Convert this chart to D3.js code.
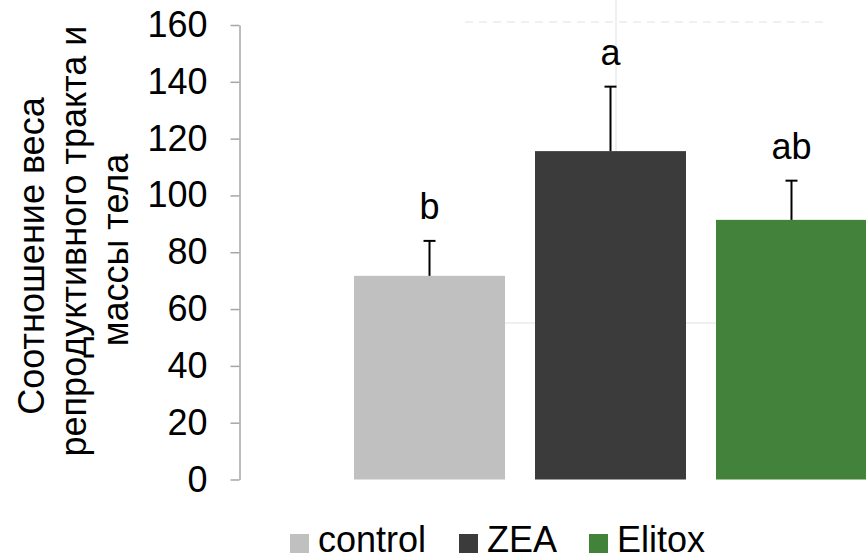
<!DOCTYPE html>
<html>
<head>
<meta charset="utf-8">
<script src="https://cdn.jsdelivr.net/npm/d3@7"></script>
<style>
  html, body { margin: 0; padding: 0; background: #fff; }
  svg { display: block; font-family: "Liberation Sans", Arial, sans-serif; }
</style>
</head>
<body>
<svg id="chart" width="866" height="559"></svg>
<script>
const categories = ["control", "ZEA", "Elitox"];
const means = [71.7, 115.6, 91.4];
const errors = [12.3, 22.7, 13.8];
const letters = ["b", "a", "ab"];
const yTicks = [0, 20, 40, 60, 80, 100, 120, 140, 160];
const colors = ["#C0C0C0", "#3B3B3B", "#43823A"];
const titleLines = ["Соотношение веса", "репродуктивного тракта и", "массы тела"];

const svg = d3.select("#chart");

const y = d3.scaleLinear().domain([0, 160]).range([479.5, 25]);
const x = d3.scaleBand().domain(categories).range([339, 882])
  .paddingInner(0.1657).paddingOuter(0.0829);

// faint ghost lines in background
const ghost = svg.append("g").attr("stroke", "#f0f0f0").attr("stroke-width", 2);
ghost.append("line").attr("x1", 465).attr("x2", 823).attr("y1", 22).attr("y2", 22)
  .attr("stroke-dasharray", "8,6");
ghost.append("line").attr("x1", 616).attr("x2", 616).attr("y1", 0).attr("y2", 323);
ghost.append("line").attr("x1", 465).attr("x2", 825).attr("y1", 323).attr("y2", 323);

// axis
const axis = d3.axisLeft(y).tickValues(yTicks).tickSize(9).tickSizeOuter(0).tickPadding(23);
const ag = svg.append("g").attr("transform", "translate(239.5,0)").call(axis);
ag.select(".domain").attr("stroke", "#A6A6A6").attr("stroke-width", 1.5);
ag.selectAll(".tick line").attr("stroke", "#A6A6A6").attr("stroke-width", 1.5);
ag.selectAll(".tick text").attr("fill", "#000").attr("font-size", 36)
  .attr("font-family", "Liberation Sans, Arial, sans-serif");

// bars
svg.append("g").selectAll("rect").data(categories).join("rect")
  .attr("x", d => x(d))
  .attr("width", x.bandwidth())
  .attr("y", (d, i) => y(means[i]))
  .attr("height", (d, i) => y(0) - y(means[i]))
  .attr("fill", (d, i) => colors[i]);

// error bars
const eg = svg.append("g").attr("stroke", "#000").attr("stroke-width", 2);
categories.forEach((c, i) => {
  const cx = x(c) + x.bandwidth() / 2;
  eg.append("line").attr("x1", cx).attr("x2", cx)
    .attr("y1", y(means[i])).attr("y2", y(means[i] + errors[i]));
  eg.append("line").attr("x1", cx - 6).attr("x2", cx + 6)
    .attr("y1", y(means[i] + errors[i])).attr("y2", y(means[i] + errors[i]));
});

// significance letters
svg.append("g").selectAll("text").data(categories).join("text")
  .attr("x", d => x(d) + x.bandwidth() / 2)
  .attr("y", (d, i) => y(means[i] + errors[i]) - 22)
  .attr("text-anchor", "middle")
  .attr("font-size", 36)
  .attr("fill", "#000")
  .text((d, i) => letters[i]);

// y title
const titleCenters = [256, 241, 250];
const tg = svg.append("g");
titleLines.forEach((t, i) => {
  tg.append("text")
    .attr("transform", `translate(${44 + i * 42},${titleCenters[i]}) rotate(-90)`)
    .attr("text-anchor", "middle")
    .attr("font-size", 36)
    .attr("fill", "#000")
    .text(t);
});

// legend
const legX = [290, 459, 589];
const lg = svg.append("g");
categories.forEach((c, i) => {
  lg.append("rect").attr("x", legX[i]).attr("y", 534).attr("width", 19).attr("height", 19)
    .attr("fill", colors[i]);
  lg.append("text").attr("x", legX[i] + 28).attr("y", 552)
    .attr("font-size", 36).attr("fill", "#000").text(c);
});
</script>
</body>
</html>
